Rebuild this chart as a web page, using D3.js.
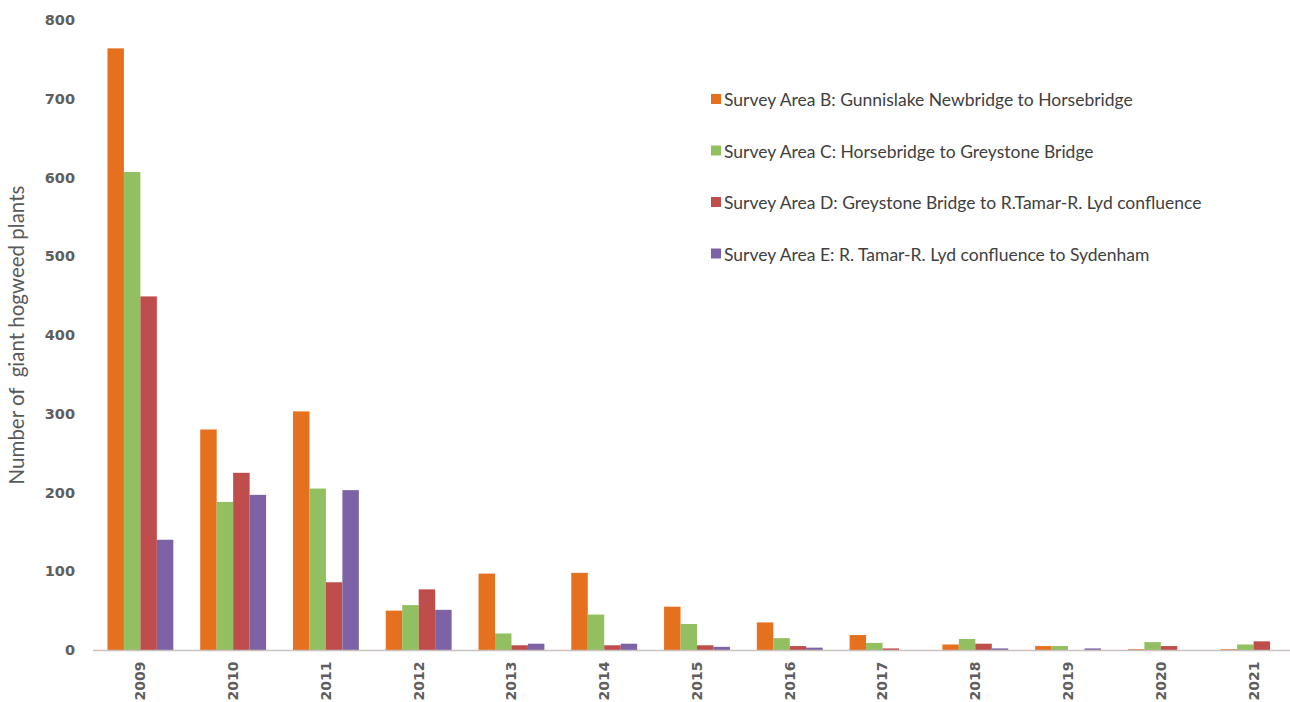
<!DOCTYPE html>
<html>
<head>
<meta charset="utf-8">
<script src="https://cdn.jsdelivr.net/npm/d3@7"></script>
<style>
  html, body { margin: 0; padding: 0; background: #fff; }
  svg { display: block; }
</style>
</head>
<body>
<svg id="chart" width="1290" height="702"></svg>
<script>
// Giant hogweed counts per survey area on the River Tamar, 2009–2021
const years = ["2009","2010","2011","2012","2013","2014","2015","2016","2017","2018","2019","2020","2021"];
const seriesNames = [
  "Survey Area B: Gunnislake Newbridge to Horsebridge",
  "Survey Area C: Horsebridge to Greystone Bridge",
  "Survey Area D: Greystone Bridge to R.Tamar-R. Lyd confluence",
  "Survey Area E: R. Tamar-R. Lyd confluence to Sydenham"
];
const areaB = [764, 280, 303, 50, 97, 98, 55, 35, 19, 7, 5, 1, 1];
const areaC = [607, 188, 205, 57, 21, 45, 33, 15, 9, 14, 5, 10, 7];
const areaD = [449, 225, 86, 77, 6, 6, 6, 5, 2, 8, 0, 5, 11];
const areaE = [140, 197, 203, 51, 8, 8, 4, 3, 0, 2, 2, 0, 0];
const yTicks = [0, 100, 200, 300, 400, 500, 600, 700, 800];
const colors = ["#E5711F", "#92BF5F", "#BE4D4B", "#7D63A5"];

const seriesValues = [areaB, areaC, areaD, areaE];

const svg = d3.select("#chart");
const baseY = 650, topY = 20;

const x = d3.scaleBand().domain(years).range([94, 1300]).paddingInner(0.29).paddingOuter(0.145);
const xs = d3.scaleBand().domain(d3.range(seriesValues.length)).range([0, x.bandwidth()]);
const y = d3.scaleLinear().domain([0, 800]).range([baseY, topY]);

// bars
const groups = svg.append("g").selectAll("g")
  .data(years)
  .join("g")
  .attr("transform", d => `translate(${x(d)},0)`);

groups.selectAll("rect")
  .data((d, i) => seriesValues.map((vals, s) => ({ s, v: vals[i] })))
  .join("rect")
  .attr("x", d => xs(d.s))
  .attr("width", xs.bandwidth())
  .attr("y", d => y(d.v))
  .attr("height", d => baseY - y(d.v))
  .attr("fill", d => colors[d.s]);

// baseline
svg.append("line")
  .attr("x1", 93).attr("x2", 1290)
  .attr("y1", baseY + 0.5).attr("y2", baseY + 0.5)
  .attr("stroke", "#c9c0c0").attr("stroke-width", 1.5);

// y axis tick labels
const yAxis = d3.axisLeft(y).tickValues(yTicks).tickSize(0).tickPadding(0);
const yg = svg.append("g").attr("transform", "translate(75,0)").call(yAxis);
yg.select(".domain").remove();
yg.selectAll("text")
  .attr("font-family", "DejaVu Sans, Verdana, sans-serif")
  .attr("font-size", 14.5)
  .attr("font-weight", "bold")
  .attr("fill", "#5e5e5e");

// x axis year labels (rotated)
const xAxis = d3.axisBottom(x).tickSize(0).tickPadding(0);
const xg = svg.append("g").attr("transform", `translate(0,${baseY})`).call(xAxis);
xg.select(".domain").remove();
xg.selectAll("text")
  .attr("transform", "rotate(-90)")
  .attr("x", -31).attr("y", 0).attr("dy", "0.35em")
  .attr("text-anchor", "middle")
  .attr("font-family", "DejaVu Sans, Verdana, sans-serif")
  .attr("font-size", 14)
  .attr("font-weight", "bold")
  .attr("fill", "#5e5e5e");

// y axis title
svg.append("text")
  .attr("transform", "translate(24,335) rotate(-90)")
  .attr("text-anchor", "middle")
  .attr("font-family", "Lato, 'Open Sans', sans-serif")
  .attr("font-size", 20.5)
  .attr("fill", "#595959")
  .attr("xml:space", "preserve")
  .text("Number of  giant hogweed plants");

// legend
const legend = svg.append("g").selectAll("g")
  .data(seriesNames)
  .join("g")
  .attr("transform", (d, i) => `translate(711,${100 + i * 51.5})`);
legend.append("rect")
  .attr("x", 0).attr("y", -6).attr("width", 10).attr("height", 10)
  .attr("fill", (d, i) => colors[i]);
legend.append("text")
  .attr("x", 13).attr("y", 0).attr("dy", "0.35em")
  .attr("font-family", "Lato, 'Open Sans', sans-serif")
  .attr("font-size", 17.5)
  .attr("fill", "#404040")
  .text(d => d);
</script>
</body>
</html>
